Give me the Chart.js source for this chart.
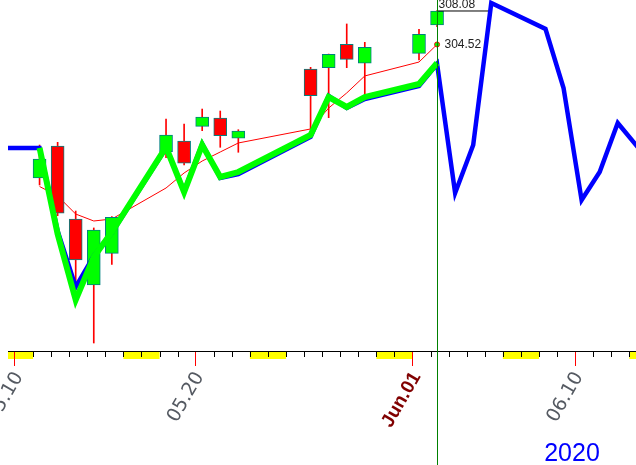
<!DOCTYPE html>
<html>
<head>
<meta charset="utf-8">
<script src="https://cdn.jsdelivr.net/npm/chart.js@4/dist/chart.umd.min.js"></script>
<style>
html, body { margin: 0; padding: 0; background: #fff; }
#wrap { width: 636px; height: 465px; }
</style>
</head>
<body>
<div id="wrap"><canvas id="myChart"></canvas></div>
<script>
// day numbers counted in May (June 1 = 32)
let candleDays = [11, 12, 13, 14, 15, 18, 19, 20, 21, 22, 26, 27, 28, 29, 32, 33];
let open  = [290.31, 293.72, 285.95, 278.93, 282.30, 293.11, 294.25, 295.81, 296.70, 294.54, 301.91, 302.05, 304.54, 302.52, 303.58, 306.59];
let high  = [293.82, 294.11, 286.80, 285.00, 286.20, 296.59, 296.06, 297.65, 297.44, 295.45, 302.09, 303.50, 306.70, 304.75, 306.13, 308.13];
let low   = [289.57, 286.30, 278.40, 272.76, 281.13, 292.47, 291.70, 295.35, 293.58, 293.05, 295.49, 296.73, 302.05, 299.14, 302.87, 306.40];
let close = [292.34, 286.56, 281.59, 284.78, 286.13, 294.89, 291.88, 296.80, 294.81, 295.31, 299.07, 303.47, 302.94, 304.22, 305.60, 308.08];

let maValues    = [289.41, 288.40, 286.48, 285.74, 285.95, 289.25, 290.85, 292.12, 293.08, 294.04, 295.53, 297.76, 299.36, 301.17, 302.65, 304.52];
let greenValues = [293.51, 284.36, 277.34, 281.91, 284.57, 293.61, 288.82, 293.82, 290.42, 290.95, 294.89, 298.93, 297.87, 298.93, 300.31, 302.55];

let blueDays   = [8, 11, 12, 13, 14, 15, 18, 19, 20, 21, 22, 26, 27, 28, 29, 32, 33, 34, 35, 36, 39, 40, 41, 42, 43, 46];
let blueValues = [293.51, 293.51, 284.68, 278.72, 282.02, 284.46, 293.51, 288.93, 293.93, 290.31, 290.74, 294.68, 299.04, 297.76, 298.72, 300.10, 302.44, 288.72, 293.82, 308.93, 306.17, 299.89, 287.97, 290.95, 296.17, 289.20];

let tickDays   = [10, 20, 32, 41];
let tickLabels = ['05.10', '05.20', 'Jun.01', '06.10'];
let weekendDays = [9, 16, 23, 30, 37, 44];
let yearLabel = '2020';

const OFF = 0.36; // bars sit a bit after the day start
const last = candleDays.length - 1;
const peakIdx = blueValues.indexOf(Math.max(...blueValues));

const pts = (days, vals) => days.map((d, i) => ({ x: d + OFF, y: vals[i] }));
const isMonth = (i) => /[A-Za-z]/.test(tickLabels[i]);

const extras = {
    id: 'extras',
    beforeDraw(chart) {
        const ctx = chart.ctx, xs = chart.scales.x, a = chart.chartArea;
        ctx.save();
        ctx.fillStyle = '#ffff00';
        weekendDays.forEach(d => {
            let x1 = Math.max(xs.getPixelForValue(d), a.left);
            let x2 = Math.min(xs.getPixelForValue(d + 2), a.right);
            if (x2 > x1) ctx.fillRect(x1, a.bottom + 1, x2 - x1, 7);
        });
        ctx.strokeStyle = '#000';
        ctx.lineWidth = 1;
        for (let d = Math.ceil(xs.min); d <= xs.max; d++) {
            if (tickDays.includes(d)) continue;
            let x = Math.round(xs.getPixelForValue(d)) + 0.5;
            ctx.beginPath();
            ctx.moveTo(x, a.bottom);
            ctx.lineTo(x, a.bottom + 6);
            ctx.stroke();
        }
        ctx.restore();
    },
    afterDraw(chart) {
        const ctx = chart.ctx, xs = chart.scales.x, ys = chart.scales.y;
        const xl = Math.round(xs.getPixelForValue(candleDays[last] + OFF)) + 0.5;
        ctx.save();
        ctx.strokeStyle = '#008000';
        ctx.lineWidth = 1;
        ctx.beginPath();
        ctx.moveTo(xl, 0);
        ctx.lineTo(xl, chart.height);
        ctx.stroke();

        ctx.fillStyle = '#222';
        ctx.font = '12px "Liberation Sans", Arial, sans-serif';
        ctx.textAlign = 'left';
        ctx.textBaseline = 'middle';
        ctx.fillText(maValues[last].toFixed(2), xl + 7, ys.getPixelForValue(maValues[last]));
        ctx.textBaseline = 'alphabetic';
        ctx.fillText(close[last].toFixed(2), xl + 1, ys.getPixelForValue(close[last]) - 3);

        ctx.fillStyle = '#0000ff';
        ctx.font = '25px "Liberation Sans", Arial, sans-serif';
        ctx.textAlign = 'center';
        ctx.fillText(yearLabel, 572, 461);
        ctx.restore();
    }
};

var ctx = document.getElementById('myChart').getContext('2d');
var chart = new Chart(ctx, {
    type: 'bar',
    data: {
        datasets: [{
            type: 'line',
            label: 'green',
            data: pts(candleDays, greenValues),
            borderColor: '#00ff00',
            borderWidth: 6,
            pointRadius: 0,
            order: 0
        },
        {
            type: 'line',
            label: 'blue',
            data: pts(blueDays, blueValues),
            borderColor: '#0000ff',
            borderWidth: 4.5,
            pointRadius: 0,
            order: 1
        },
        {
            type: 'line',
            label: 'last close',
            data: [{ x: candleDays[last] + OFF, y: close[last] }, { x: blueDays[peakIdx] + OFF, y: close[last] }],
            borderColor: '#000',
            borderWidth: 1,
            pointRadius: 0,
            order: 2
        },
        {
            label: 'body',
            data: candleDays.map((d, i) => ({ x: d + OFF, y: [open[i], close[i]] })),
            backgroundColor: close.map((c, i) => c >= open[i] ? '#00ff00' : '#ff0000'),
            borderColor: '#008080',
            borderWidth: 1,
            borderSkipped: false,
            barThickness: 13,
            grouped: false,
            order: 3
        },
        {
            label: 'wick',
            data: candleDays.map((d, i) => ({ x: d + OFF, y: [low[i], high[i]] })),
            backgroundColor: '#ff0000',
            borderWidth: 0,
            barThickness: 1,
            grouped: false,
            order: 4
        },
        {
            type: 'line',
            label: 'MA',
            data: pts(candleDays, maValues),
            borderColor: '#ff0000',
            borderWidth: 1,
            pointRadius: maValues.map((v, i) => i === last ? 2.5 : 0),
            pointBackgroundColor: '#00ff00',
            pointBorderColor: '#ff0000',
            pointBorderWidth: 1,
            order: 5
        }]
    },
    options: {
        responsive: true,
        maintainAspectRatio: false,
        animation: false,
        events: [],
        layout: { autoPadding: false, padding: { left: 8, right: 0, top: 0, bottom: 0 } },
        plugins: { legend: { display: false }, tooltip: { enabled: false } },
        scales: {
            x: {
                type: 'linear',
                offset: false,
                min: 9.613,
                max: 44.37,
                afterBuildTicks: (scale) => { scale.ticks = tickDays.map(v => ({ value: v })); },
                afterFit: (scale) => {
                    scale.height = 114;
                    scale.paddingLeft = 0;
                    scale.paddingRight = 0;
                },
                border: { display: true, color: '#000', width: 1 },
                grid: { offset: false, drawOnChartArea: false, drawTicks: true, tickLength: 15, color: '#ff0000', tickColor: '#ff0000' },
                ticks: {
                    autoSkip: false,
                    minRotation: 60,
                    maxRotation: 60,
                    padding: 2,
                    labelOffset: 4,
                    callback: (value) => tickLabels[tickDays.indexOf(value)],
                    color: (c) => isMonth(c.index) ? '#800000' : '#555a62',
                    font: (c) => isMonth(c.index)
                        ? { family: '"Liberation Sans", Arial, sans-serif', size: 19, weight: 'bold' }
                        : { family: '"DejaVu Sans", sans-serif', size: 19, weight: 'normal' }
                }
            },
            y: {
                type: 'linear',
                display: false,
                min: 271.91,
                max: 309.25
            }
        }
    },
    plugins: [extras]
});
</script>
</body>
</html>
